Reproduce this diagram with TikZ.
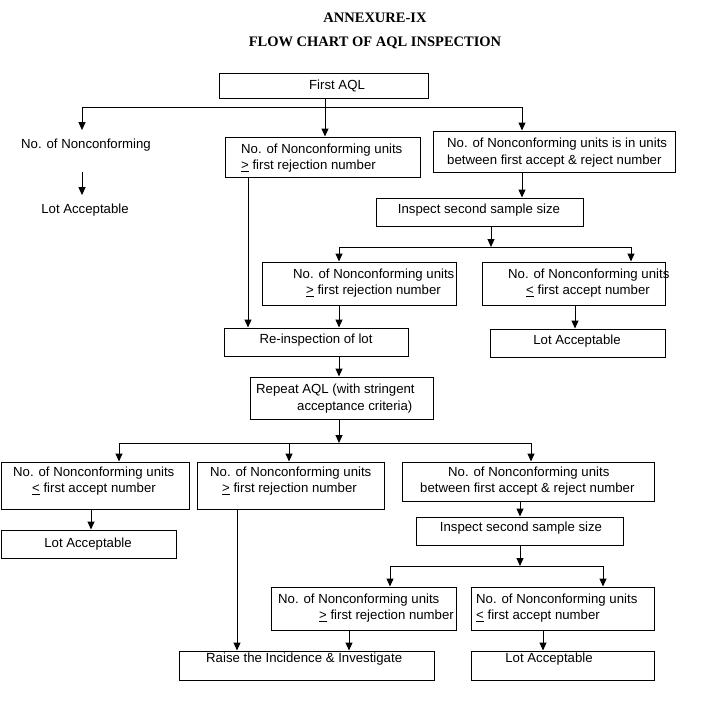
\documentclass[tikz,border=0pt]{standalone}
\usepackage{fontspec}
\setmainfont{Liberation Sans}
\newfontfamily\titlefont{Liberation Serif}
\usetikzlibrary{arrows.meta}
\newcommand\bx[5]{\node[box, minimum width={(#4-#2)*1pt}, minimum height={(#5-#3)*1pt}] (#1) at ({(#2+#4)/2},{(#3+#5)/2}) {};}
\newcommand\tl[4]{\node[txt, anchor=west] (#1) at (#2,#3) {#4};}
\newcommand\tc[4]{\node[txt, anchor=center] (#1) at (#2,#3) {#4};}
\newcommand\myge{\underline{>}}
\newcommand\myle{\underline{<}}
\begin{document}
\begin{tikzpicture}[x=1pt,y=-1pt,
  box/.style={draw, line width=1pt, inner sep=0pt},
  arr/.style={line width=1pt, -{Triangle[width=7pt,length=8pt]}},
  ln/.style={line width=1pt},
  txt/.style={inner sep=0pt, text height=9.4pt, text depth=0pt, font=\fontsize{13.2}{16}\selectfont},
  ttl/.style={inner sep=0pt, font=\titlefont\bfseries\fontsize{14.5}{16}\selectfont}]
\useasboundingbox (0,0) rectangle (704,707);
% titles
\node[ttl] (t1) at (375,18) {ANNEXURE-IX};
\node[ttl] (t2) at (375,43) {FLOW CHART OF AQL INSPECTION};
% first level
\bx{first}{219}{73}{428}{98}
\tc{firstT}{337}{85}{First AQL}
\tl{nc}{21}{144}{No. of Nonconforming}
\tc{la1}{85}{209}{Lot Acceptable}
\bx{b2}{225}{137}{420}{177}
\tl{b2a}{241}{149}{No. of Nonconforming units}
\tl{b2b}{241}{165}{\myge{} first rejection number}
\bx{b3}{433}{131}{675}{172}
\tl{b3a}{447}{143}{No. of Nonconforming units is in units}
\tl{b3b}{447}{160}{between first accept \& reject number}
\bx{ins1}{376}{198}{583}{226}
\tc{ins1T}{479}{209}{Inspect second sample size}
\bx{b4}{262}{262}{456}{305}
\tl{b4a}{293}{274}{No. of Nonconforming units}
\tl{b4b}{306}{290}{\myge{} first rejection number}
\bx{b5}{482}{262}{665}{305}
\tl{b5a}{508}{274}{No. of Nonconforming units}
\tl{b5b}{526}{290}{\myle{} first accept number}
\bx{rein}{224}{328}{408}{356}
\tc{reinT}{316}{339}{Re-inspection of lot}
\bx{la2}{490}{329}{665}{357}
\tc{la2T}{577}{340}{Lot Acceptable}
\bx{rep}{250}{377}{433}{419}
\tl{repa}{256}{389}{Repeat AQL (with stringent}
\tl{repb}{297}{406}{acceptance criteria)}
% lower level
\bx{l1}{1}{462}{189}{509}
\tl{l1a}{13}{472}{No. of Nonconforming units}
\tl{l1b}{32}{488}{\myle{} first accept number}
\bx{l2}{197}{462}{384}{509}
\tl{l2a}{210}{472}{No. of Nonconforming units}
\tl{l2b}{222}{488}{\myge{} first rejection number}
\bx{l3}{402}{462}{654}{501}
\tl{l3a}{448}{472}{No. of Nonconforming units}
\tl{l3b}{420}{488}{between first accept \& reject number}
\bx{la3}{1}{530}{176}{558}
\tc{la3T}{88}{543}{Lot Acceptable}
\bx{ins2}{416}{517}{623}{545}
\tc{ins2T}{521}{527}{Inspect second sample size}
\bx{c1}{271}{587}{456}{630}
\tl{c1a}{278}{599}{No. of Nonconforming units}
\tl{c1b}{319}{615}{\myge{} first rejection number}
\bx{c2}{471}{587}{654}{630}
\tl{c2a}{476}{599}{No. of Nonconforming units}
\tl{c2b}{476}{615}{\myle{} first accept number}
\bx{raise}{179}{651}{434}{680}
\tl{raiseT}{206}{658}{Raise the Incidence \& Investigate}
\bx{la4}{471}{651}{654}{680}
\tc{la4T}{549}{658}{Lot Acceptable}
% junctions
\coordinate (j1) at (325,107);
\coordinate (j1l) at (82,107);
\coordinate (j1r) at (522,107);
\coordinate (j2) at (491,247);
\coordinate (j2l) at (339,247);
\coordinate (j2r) at (631,247);
\coordinate (j3) at (339,443);
\coordinate (j3l) at (119,443);
\coordinate (j3m) at (289,443);
\coordinate (j3r) at (531,443);
\coordinate (j4) at (520,566);
\coordinate (j4l) at (390,566);
\coordinate (j4r) at (603,566);
% connectors top
\draw[ln] (first.south -| j1) -- (j1);
\draw[ln] (j1l) -- (j1r);
\draw[arr] (j1) -- (b2.north -| j1);
\draw[arr, shorten >=9pt] (j1l) -- (nc.north -| j1l);
\draw[arr] (j1r) -- (b3.north -| j1r);
\draw[arr, shorten <=23pt, shorten >=9pt] (nc.south -| j1l) -- (la1.north -| j1l);
\draw[arr] (b3.south -| j1r) -- (ins1.north -| j1r);
\draw[arr] (ins1.south -| j2) -- (j2);
\draw[ln] (j2l) -- (j2r);
\draw[arr] (j2l) -- (b4.north -| j2l);
\draw[arr] (j2r) -- (b5.north -| j2r);
\draw[arr] (b2.south -| 248,0) -- (rein.north -| 248,0);
\draw[arr] (b4.south -| j2l) -- (rein.north -| j2l);
\draw[arr] (b5.south -| 575,0) -- (la2.north -| 575,0);
\draw[arr] (rein.south -| j2l) -- (rep.north -| j2l);
% connectors bottom
\draw[arr] (rep.south -| j3) -- (j3);
\draw[ln] (j3l) -- (j3r);
\draw[arr] (j3l) -- (l1.north -| j3l);
\draw[arr] (j3m) -- (l2.north -| j3m);
\draw[arr] (j3r) -- (l3.north -| j3r);
\draw[arr] (l1.south -| 91,0) -- (la3.north -| 91,0);
\draw[arr] (l3.south -| j4) -- (ins2.north -| j4);
\draw[arr] (ins2.south -| j4) -- (j4);
\draw[ln] (j4l) -- (j4r);
\draw[arr] (j4l) -- (c1.north -| j4l);
\draw[arr] (j4r) -- (c2.north -| j4r);
\draw[arr] (l2.south -| 237,0) -- (raise.north -| 237,0);
\draw[arr] (c1.south -| 349,0) -- (raise.north -| 349,0);
\draw[arr] (c2.south -| 543,0) -- (la4.north -| 543,0);
\end{tikzpicture}
\end{document}
